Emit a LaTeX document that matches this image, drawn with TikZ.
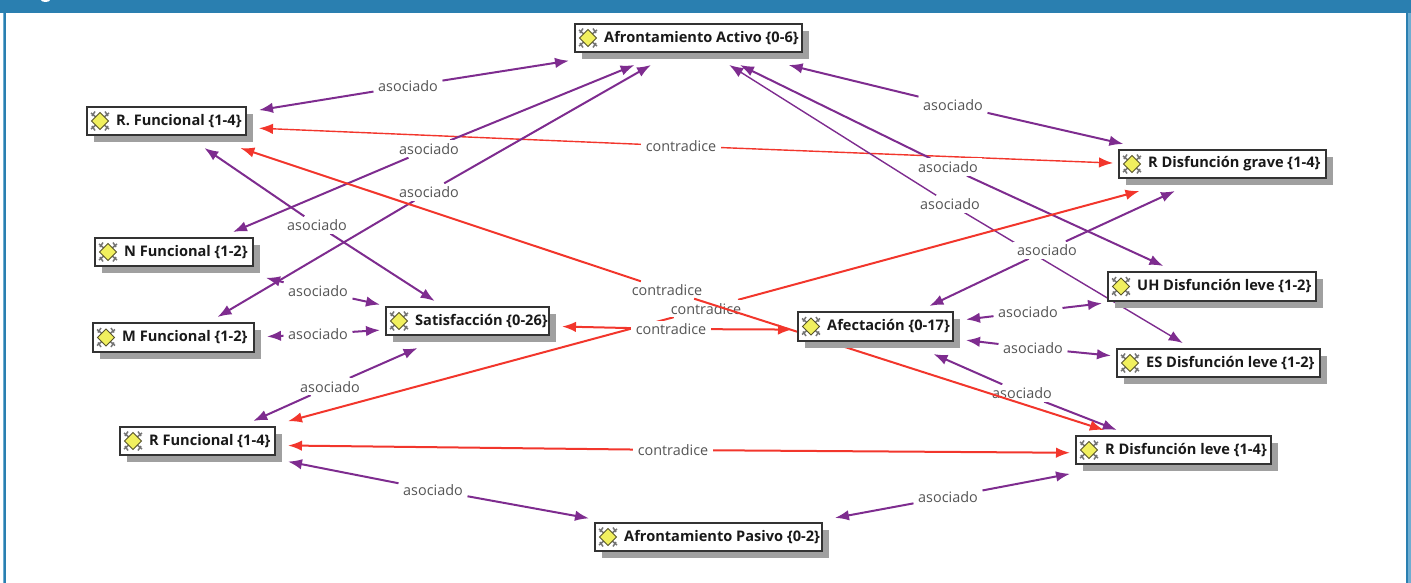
\documentclass[tikz,border=0pt]{standalone}
\usepackage{fontspec}
\setmainfont{Open Sans}
\usetikzlibrary{arrows.meta}
\definecolor{barblue}{HTML}{2A7FB0}
\definecolor{barlight}{HTML}{6FAED2}
\definecolor{assoc}{HTML}{7E2C8F}
\definecolor{contra}{HTML}{F2362C}
\definecolor{labgray}{HTML}{555555}
\definecolor{shadowgray}{HTML}{A0A0A0}
\definecolor{iconyellow}{HTML}{F1F05E}
\pgfdeclarelayer{lines}\pgfdeclarelayer{labels}\pgfdeclarelayer{mid}
\pgfsetlayers{lines,labels,mid,main}
\tikzset{
  conceptbox/.style={draw=black!80,line width=1.3pt,fill=white,inner sep=0pt,rectangle},
  hitzone/.style={inner sep=0pt,outer sep=0pt,rectangle},
  linklabel/.style={fill=white,text=labgray,font=\fontsize{14.4}{15}\selectfont,inner sep=0pt,inner xsep=4.5pt,inner ysep=3pt,text height=11pt,text depth=0pt},
  assocline/.style={draw=assoc,line width=2pt,-{Latex[length=14pt,width=10.5pt]}},
  assocthin/.style={draw=assoc,line width=1.4pt,-{Latex[length=14pt,width=10.5pt]}},
  contraline/.style={draw=contra,line width=2pt,-{Latex[length=14pt,width=10.5pt]}},
  contrathin/.style={draw=contra,line width=1.4pt,-{Latex[length=14pt,width=10.5pt]}},
  conceptext/.style={font=\fontsize{14.6}{15}\selectfont\bfseries,text=black!90,anchor=west,inner sep=0pt},
}
% name, x1, y1, x2, y2, text
\newcommand{\concept}[6]{%
  \fill[shadowgray] (#2+7,#3+7) rectangle (#4+7,#5+7);
  \node[conceptbox,minimum width=#4-#2,minimum height=#5-#3] (#1-box) at ({(#2+#4)/2},{(#3+#5)/2}) {};
  \begin{scope}[shift={(#2+13,{(#3+#5)/2})}]
    \draw[black!55,line width=1.5pt] (-9,-8) -- (-3,-3) (9,-8) -- (3,-3) (-9,8) -- (-3,3) (9,8) -- (3,3)
      (-5,-9.5) -- (-8,-5) (5,-9.5) -- (8,-5) (-5,9.5) -- (-8,5) (5,9.5) -- (8,5);
    \fill[iconyellow,draw=black!50!olive,line width=.8pt] (0,-8.5) -- (8.5,0) -- (0,8.5) -- (-8.5,0) -- cycle;
  \end{scope}
  \node[conceptext] (#1-text) at (#2+29,{(#3+#5)/2}) {#6};
  \node[hitzone,minimum width=#4-#2+19,minimum height=#5-#3+19] (#1) at ({(#2+#4+7)/2},{(#3+#5+7)/2}) {};
}
% label name, x, y, text
\newcommand{\linklab}[4]{\begin{pgfonlayer}{labels}\node[linklabel] (#1) at (#2,#3) {#4};\end{pgfonlayer}}
% edge between two boxes via a label
\newcommand{\via}[4][assocline]{\begin{pgfonlayer}{lines}\draw[#1] (#3) -- (#2);\draw[#1] (#3) -- (#4);\end{pgfonlayer}}
\begin{document}
\begin{tikzpicture}[x=1pt,y=-1pt]
\useasboundingbox (0,0) rectangle (1411,583);
\fill[barblue] (0,0) rectangle (1411,13);
\fill[white] (45.5,0) ellipse (4.5 and 2);
\fill[barlight] (3,13) rectangle (4.3,583);
\fill[barblue] (4.3,13) rectangle (6,583);
\fill[barblue] (1406,13) rectangle (1408,583);
\fill[barlight] (1408,13) rectangle (1411,583);

\concept{aa}{575}{24}{802}{52}{Afrontamiento Activo \{0-6\}}
\concept{rfa}{87}{107}{246}{135}{R. Funcional \{1-4\}}
\concept{nf}{95}{238}{253}{266}{N Funcional \{1-2\}}
\concept{mf}{93}{323}{254}{352}{M Funcional \{1-2\}}
\concept{sa}{386}{307}{549}{335}{Satisfacción \{0-26\}}
\concept{rf}{120}{427}{275}{455}{R Funcional \{1-4\}}
\concept{ap}{595}{523}{822}{551}{Afrontamiento Pasivo \{0-2\}}
\concept{rg}{1119}{150}{1326}{178}{R Disfunción grave \{1-4\}}
\concept{uh}{1108}{272}{1316}{301}{UH Disfunción leve \{1-2\}}
\concept{es}{1117}{349}{1320}{377}{ES Disfunción leve \{1-2\}}
\concept{af}{798}{312}{953}{341}{Afectación \{0-17\}}
\concept{rl}{1076}{436}{1271}{464}{R Disfunción leve \{1-4\}}

\linklab{l1}{408}{86}{asociado}
\linklab{l2}{681}{146}{contradice}
\linklab{l3}{953}{105}{asociado}
\linklab{l4}{429}{149}{asociado}
\linklab{l5}{429}{192}{asociado}
\linklab{l6}{948}{167}{asociado}
\linklab{l7}{950}{204}{asociado}
\linklab{l8}{317}{225}{asociado}
\linklab{l9}{1047}{250}{asociado}
\linklab{l10}{706}{308.5}{contradice}
\linklab{l11}{671}{329}{contradice}
\linklab{l12}{318}{291}{asociado}
\linklab{l13}{318}{334}{asociado}
\linklab{l14}{330}{386.5}{asociado}
\linklab{l15}{1028}{312}{asociado}
\linklab{l16}{1033}{348}{asociado}
\linklab{l17}{1022}{393}{asociado}
\linklab{l18}{673}{450}{contradice}
\linklab{l19}{433}{490}{asociado}
\linklab{l20}{948}{497}{asociado}
\linklab{l21}{667}{290}{contradice}

\via{rfa}{l1}{aa}
\via[contrathin]{rfa}{l2}{rg}
\via{aa}{l3}{rg}
\via{aa}{l4}{nf}
\via{aa}{l5}{mf}
\via{aa}{l6}{uh}
\via[assocthin]{aa}{l7}{es}
\via{rfa}{l8}{sa}
\via{af}{l9}{rg}
\via[contraline]{rf}{l10}{rg}
\via[contraline]{sa}{l11}{af}
\via{nf}{l12}{sa}
\via{mf}{l13}{sa}
\via{rf}{l14}{sa}
\via{af}{l15}{uh}
\via{af}{l16}{es}
\via{af}{l17}{rl}
\via[contraline]{rf}{l18}{rl}
\via{rf}{l19}{ap}
\via{ap}{l20}{rl}
\begin{pgfonlayer}{mid}
\draw[contraline] (l21) -- (rfa);
\draw[contraline] (l21) -- (rl);
\end{pgfonlayer}
\end{tikzpicture}
\end{document}
